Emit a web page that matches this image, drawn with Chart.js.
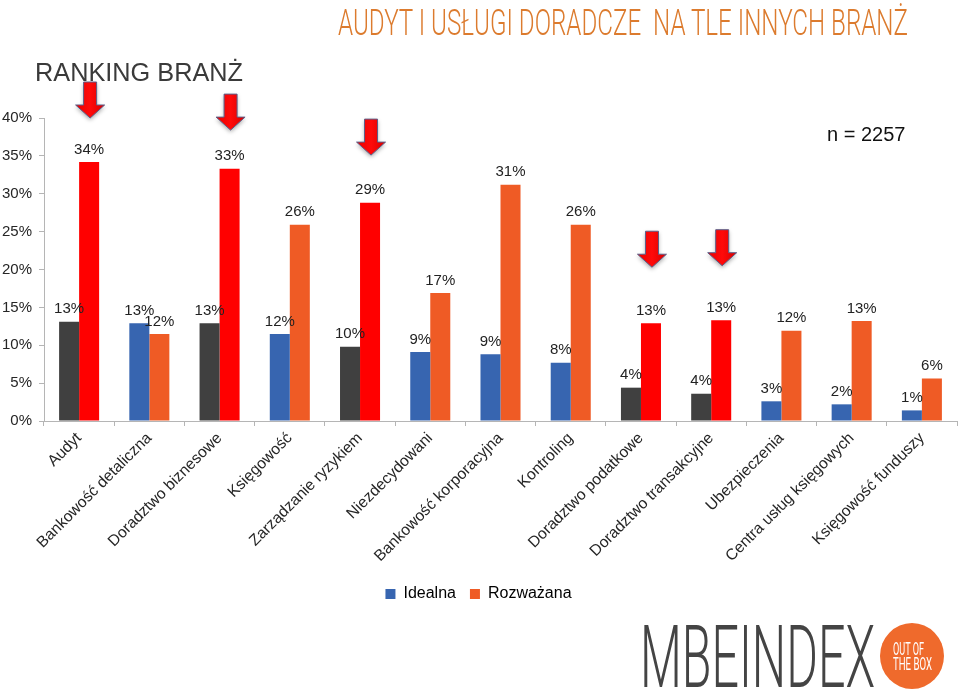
<!DOCTYPE html>
<html>
<head>
<meta charset="utf-8">
<script src="https://cdn.jsdelivr.net/npm/chart.js@4/dist/chart.umd.min.js"></script>
<style>
  body { margin: 0; background: #fff; }
  #wrap { position: relative; width: 959px; height: 693px; overflow: hidden; font-family: "Liberation Sans", Arial, sans-serif; }
  #chart { position: absolute; left: 0; top: 0; }
  .fit { position: absolute; white-space: nowrap; transform-origin: 0 0; line-height: 1; }
  #title { left: 338px; top: 4px; font-family: Roboto, sans-serif; font-weight: 300; font-size: 37px; color: #dc7b2e; }
  #ranking { left: 35px; top: 60px; font-size: 25px; color: #3a3a3a; }
  #nval { left: 827px; top: 124px; font-size: 20px; color: #111; }
  #logo { left: 640px; top: 613px; font-family: Roboto, sans-serif; font-weight: 300; font-size: 88px; color: #444; }
  #badge { position: absolute; left: 880px; top: 623px; width: 64px; height: 66px; border-radius: 50%; background: #ef6a2c; }
  .bt { font-family: Roboto, sans-serif; font-weight: 400; font-size: 18px; color: #fff; }
</style>
</head>
<body>
<div id="wrap">
  <canvas id="chart" width="959" height="693"></canvas>
  <div id="title" class="fit" data-w="570">AUDYT I USŁUGI DORADCZE&nbsp; NA TLE INNYCH BRANŻ</div>
  <div id="ranking" class="fit" data-w="208">RANKING BRANŻ</div>
  <div id="nval" class="fit">n = 2257</div>
  <div id="logo" class="fit" data-w="235">MBEINDEX</div>
  <div id="badge"></div>
  <div class="fit bt" style="left:893px; top:640px" data-w="31">OUT OF</div>
  <div class="fit bt" style="left:893px; top:655px" data-w="39">THE BOX</div>
</div>
<script>
const categories = ['Audyt', 'Bankowość detaliczna', 'Doradztwo biznesowe', 'Księgowość', 'Zarządzanie ryzykiem',
  'Niezdecydowani', 'Bankowość korporacyjna', 'Kontroling', 'Doradztwo podatkowe', 'Doradztwo transakcyjne',
  'Ubezpieczenia', 'Centra usług księgowych', 'Księgowość funduszy'];
const idealna =   [13.1, 12.9, 12.9, 11.5, 9.8, 9.1, 8.8, 7.7, 4.4, 3.6, 2.6, 2.2, 1.4];
const rozwazana = [34.2, 11.5, 33.3, 25.9, 28.8, 16.9, 31.2, 25.9, 12.9, 13.3, 11.9, 13.2, 5.6];
const highlighted = ['Audyt', 'Doradztwo biznesowe', 'Zarządzanie ryzykiem', 'Doradztwo podatkowe', 'Doradztwo transakcyjne'];
// arrow tip height (in % of y axis) above highlighted categories
const arrowTips = [40.0, null, 38.4, null, 35.1, null, null, null, 20.3, 20.5, null, null, null];
const yTicks = [0, 5, 10, 15, 20, 25, 30, 35, 40];

const BLUE = '#3765b0', ORANGE = '#ef5b25', DARK = '#404040', RED = '#ff0000';
const isHi = categories.map(c => highlighted.includes(c));

// fit text blocks to the widths measured on the reference
document.querySelectorAll('.fit[data-w]').forEach(el => {
  const w = el.getBoundingClientRect().width;
  el.style.transform = 'scaleX(' + (parseFloat(el.dataset.w) / w) + ')';
});

const valueLabels = {
  id: 'valueLabels',
  afterDatasetsDraw(chart) {
    const ctx = chart.ctx;
    ctx.save();
    ctx.font = '15px "Liberation Sans", Arial, sans-serif';
    ctx.fillStyle = '#222';
    ctx.textAlign = 'center';
    ctx.textBaseline = 'bottom';
    chart.data.datasets.forEach((ds, di) => {
      chart.getDatasetMeta(di).data.forEach((bar, i) => {
        ctx.fillText(Math.round(ds.data[i]) + '%', bar.x, bar.y - 5);
      });
    });
    ctx.restore();
  }
};

const arrows = {
  id: 'arrows',
  afterDatasetsDraw(chart) {
    const ctx = chart.ctx;
    const y = chart.scales.y;
    const bars = chart.getDatasetMeta(1).data;
    ctx.save();
    arrowTips.forEach((v, i) => {
      if (v == null) return;
      const cx = bars[i].x + 1, tip = y.getPixelForValue(v);
      const len = 36, head = 13, sw = 6.5, hw = 14.5;
      ctx.beginPath();
      ctx.moveTo(cx - sw, tip - len);
      ctx.lineTo(cx + sw, tip - len);
      ctx.lineTo(cx + sw, tip - head);
      ctx.lineTo(cx + hw, tip - head);
      ctx.lineTo(cx, tip);
      ctx.lineTo(cx - hw, tip - head);
      ctx.lineTo(cx - sw, tip - head);
      ctx.closePath();
      ctx.shadowColor = 'rgba(0,0,0,0.35)';
      ctx.shadowBlur = 4;
      ctx.shadowOffsetY = 2;
      const g = ctx.createLinearGradient(cx - hw, 0, cx + hw, 0);
      g.addColorStop(0, '#e80000');
      g.addColorStop(0.5, '#ff0a0a');
      g.addColorStop(1, '#d80000');
      ctx.fillStyle = g;
      ctx.fill();
      ctx.shadowColor = 'transparent';
      ctx.strokeStyle = '#5a5f8a';
      ctx.lineWidth = 1;
      ctx.stroke();
    });
    ctx.restore();
  }
};

new Chart(document.getElementById('chart'), {
  type: 'bar',
  data: {
    labels: categories,
    datasets: [
      { label: 'Idealna', data: idealna, backgroundColor: isHi.map(h => h ? DARK : BLUE) },
      { label: 'Rozważana', data: rozwazana, backgroundColor: isHi.map(h => h ? RED : ORANGE) }
    ]
  },
  options: {
    responsive: false,
    animation: false,
    layout: { padding: { top: 118, left: 0, right: 2, bottom: 81 } },
    datasets: { bar: { categoryPercentage: 0.57, barPercentage: 1.0 } },
    plugins: {
      tooltip: { enabled: false },
      legend: {
        position: 'bottom',
        labels: {
          boxWidth: 10, boxHeight: 10, padding: 14, color: '#222',
          font: { size: 16, family: '"Liberation Sans", Arial, sans-serif' },
          generateLabels: () => [
            { text: 'Idealna', fillStyle: BLUE, strokeStyle: BLUE, lineWidth: 0, hidden: false, datasetIndex: 0 },
            { text: 'Rozważana', fillStyle: ORANGE, strokeStyle: ORANGE, lineWidth: 0, hidden: false, datasetIndex: 1 }
          ]
        }
      }
    },
    scales: {
      x: {
        afterFit: s => { s.height = 151; },
        grid: { drawOnChartArea: false, tickLength: 5, color: '#b5b5b5' },
        border: { color: '#b5b5b5' },
        ticks: { minRotation: 45, maxRotation: 45, autoSkip: false, padding: 3, color: '#262626',
                 font: { size: 15.7, family: '"Liberation Sans", Arial, sans-serif' } }
      },
      y: {
        min: 0, max: 40,
        afterFit: s => { s.width = 44; },
        afterBuildTicks: s => { s.ticks = yTicks.map(v => ({ value: v })); },
        grid: { drawOnChartArea: false, tickLength: 5, color: '#b5b5b5' },
        border: { color: '#b5b5b5' },
        ticks: { padding: 7, color: '#262626', callback: v => v + '%',
                 font: { size: 15, family: '"Liberation Sans", Arial, sans-serif' } }
      }
    }
  },
  plugins: [valueLabels, arrows]
});
</script>
</body>
</html>
